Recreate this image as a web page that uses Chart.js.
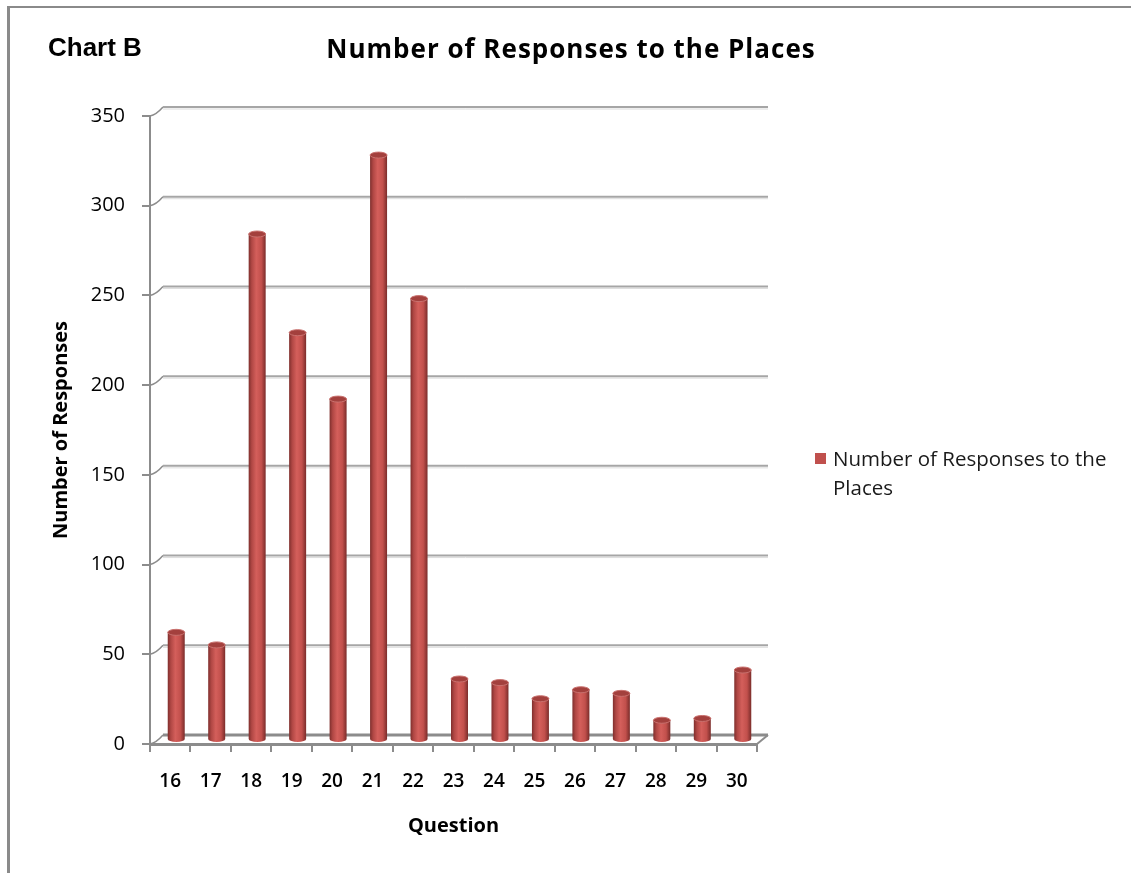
<!DOCTYPE html>
<html>
<head>
<meta charset="utf-8">
<script src="https://cdn.jsdelivr.net/npm/chart.js@4.4.1/dist/chart.umd.min.js"></script>
<style>
  html, body { margin: 0; padding: 0; background: #fff; overflow: hidden; }
  #moldura {
    position: absolute; left: 7px; top: 6px; width: 1124px; height: 880px;
    border-left: 3px solid #8a8a8a; border-top: 2px solid #8a8a8a;
  }
  #grafico { position: absolute; left: 0; top: 0; }
  .rotulo { position: absolute; white-space: nowrap; color: #000; }
  #chartB { left: 48px; top: 32px; font: bold 26px "Liberation Sans", Arial, sans-serif; }
  #titulo { left: 571px; top: 30px; transform: translateX(-50%); font: bold 26px "Open Sans", sans-serif; letter-spacing: 1px; }
  #legenda { left: 815px; top: 444px; font: 20.5px "Open Sans", sans-serif; line-height: 29px; color: #1a1a1a; }
  #legenda .caixa { position: absolute; left: 0; top: 9px; width: 11px; height: 11px; background: #C0504D; }
  #legenda .texto { margin-left: 18px; }
</style>
</head>
<body>
<div id="moldura"></div>
<canvas id="grafico" width="1131" height="873"></canvas>
<div class="rotulo" id="chartB">Chart B</div>
<div class="rotulo" id="titulo">Number of Responses to the Places</div>
<div class="rotulo" id="legenda"><span class="caixa"></span><div class="texto">Number of Responses to the<br>Places</div></div>
<script>
// Dados
const questoes = ['16', '17', '18', '19', '20', '21', '22', '23', '24', '25', '26', '27', '28', '29', '30'];
const respostas = [60, 53, 282, 227, 190, 326, 246, 34, 32, 23, 28, 26, 11, 12, 39];
const ticksY = [0, 50, 100, 150, 200, 250, 300, 350];

// Profundidade da parede do fundo e deslocamento das barras
const fundoDx = 13, fundoDy = -9;
const barraDx = 6, barraDy = -4;

// Parede do fundo, linhas de grade e cilindros
const parede3d = {
  id: 'parede3d',
  beforeDatasetsDraw(chart) {
    const { ctx, chartArea: a, scales: { y } } = chart;
    ctx.save();
    ticksY.forEach(v => {
      const py = y.getPixelForValue(v);
      // conector diagonal
      ctx.strokeStyle = '#8c8c8c';
      ctx.lineWidth = 1.5;
      ctx.beginPath();
      ctx.moveTo(a.left, py);
      ctx.quadraticCurveTo(a.left + 6, py - 1, a.left + fundoDx, py + fundoDy);
      ctx.stroke();
      // linha do fundo
      if (v === 0) {
        ctx.strokeStyle = '#8c8c8c';
        ctx.lineWidth = 3;
      } else {
        ctx.strokeStyle = '#dcdcdc';
        ctx.lineWidth = 1;
        ctx.beginPath();
        ctx.moveTo(a.left + fundoDx, py + fundoDy + 2);
        ctx.lineTo(a.right + fundoDx - 2, py + fundoDy + 2);
        ctx.stroke();
        ctx.strokeStyle = '#a6a6a6';
        ctx.lineWidth = 2;
      }
      ctx.beginPath();
      ctx.moveTo(a.left + fundoDx, py + fundoDy);
      ctx.lineTo(a.right + fundoDx - 2, py + fundoDy);
      ctx.stroke();
    });
    // canto direito do piso
    const p0 = y.getPixelForValue(0);
    ctx.strokeStyle = '#8c8c8c';
    ctx.lineWidth = 2;
    ctx.beginPath();
    ctx.moveTo(a.right, p0);
    ctx.lineTo(a.right + fundoDx - 2, p0 + fundoDy);
    ctx.stroke();
    ctx.restore();
  },
  afterDatasetsDraw(chart) {
    const { ctx } = chart;
    const meta = chart.getDatasetMeta(0);
    ctx.save();
    ctx.translate(barraDx, barraDy);
    meta.data.forEach(bar => {
      const w = bar.width, x0 = bar.x - w / 2, x1 = bar.x + w / 2;
      const topo = bar.y, base = bar.base, ry = 3;
      const grad = ctx.createLinearGradient(x0, 0, x1, 0);
      grad.addColorStop(0, '#7f2f2d');
      grad.addColorStop(0.18, '#b04744');
      grad.addColorStop(0.45, '#d45f5b');
      grad.addColorStop(0.75, '#c2504c');
      grad.addColorStop(1, '#7a2c2a');
      ctx.fillStyle = grad;
      ctx.beginPath();
      ctx.moveTo(x0, topo);
      ctx.lineTo(x0, base);
      ctx.ellipse(bar.x, base, w / 2, ry, 0, Math.PI, 0, true);
      ctx.lineTo(x1, topo);
      ctx.closePath();
      ctx.fill();
      // tampa
      ctx.fillStyle = '#a3403d';
      ctx.strokeStyle = '#c9716e';
      ctx.lineWidth = 1;
      ctx.beginPath();
      ctx.ellipse(bar.x, topo, w / 2, ry, 0, 0, Math.PI * 2);
      ctx.fill();
      ctx.stroke();
    });
    ctx.restore();
  }
};

const chart = new Chart(document.getElementById('grafico'), {
  type: 'bar',
  data: {
    labels: questoes,
    datasets: [{
      label: 'Number of Responses to the Places',
      data: respostas,
      backgroundColor: 'rgba(0,0,0,0)',
      borderWidth: 0,
      categoryPercentage: 1,
      barPercentage: 0.42
    }]
  },
  options: {
    responsive: false,
    animation: false,
    layout: { padding: { left: 0, top: 116, right: 374, bottom: 0 } },
    plugins: {
      legend: { display: false },
      title: { display: false },
      tooltip: { enabled: false }
    },
    scales: {
      x: {
        afterFit: s => { s.height = 129; },
        grid: { offset: true, drawOnChartArea: false, drawTicks: true, tickLength: 8, color: '#8c8c8c', lineWidth: 2 },
        border: { display: true, color: '#8c8c8c', width: 3 },
        ticks: { color: '#000', padding: 18, font: { family: 'Open Sans', size: 19, weight: '600' } },
        title: { display: true, text: 'Question', color: '#000', padding: { top: 0, bottom: 35 }, font: { family: 'Open Sans', size: 20, weight: 'bold' } }
      },
      y: {
        min: 0,
        max: 350,
        afterFit: s => { s.width = 150; },
        afterBuildTicks: s => { s.ticks = ticksY.map(v => ({ value: v })); },
        grid: { drawOnChartArea: false, drawTicks: true, tickLength: 8, color: '#8c8c8c', lineWidth: 2 },
        border: { display: true, color: '#8c8c8c', width: 2 },
        ticks: { color: '#000', padding: 17, font: { family: 'Open Sans', size: 20 } },
        title: { display: true, text: 'Number of Responses', color: '#000', padding: { top: 49, bottom: 0 }, font: { family: 'Open Sans', size: 20, weight: 'bold' } }
      }
    }
  },
  plugins: [parede3d]
});
</script>
</body>
</html>
